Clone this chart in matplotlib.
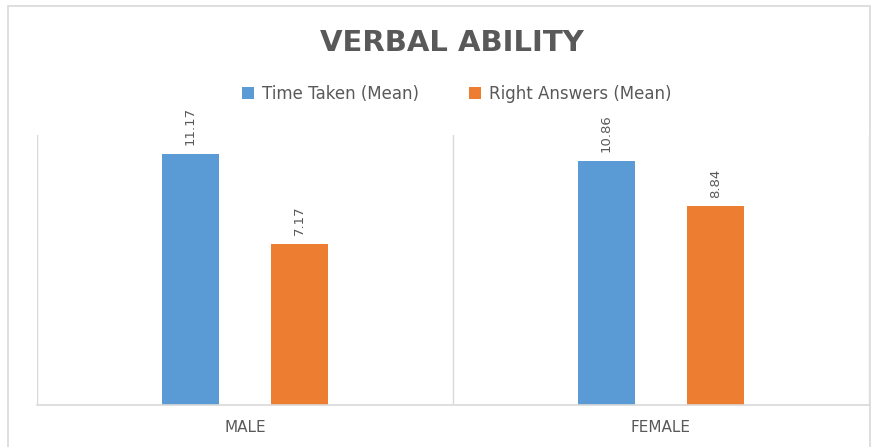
import numpy as np
import matplotlib
matplotlib.use("Agg")
from matplotlib import pyplot as plt
from matplotlib.patches import Rectangle

categories = ["MALE", "FEMALE"]
series_names = ["Time Taken (Mean)", "Right Answers (Mean)"]
time_taken = [11.17, 10.86]
right_answers = [7.17, 8.84]

BLUE = "#5b9bd5"
ORANGE = "#ed7d31"
GREY_TEXT = "#595959"
GRID = "#d9d9d9"

W, H = 886, 447
fig = plt.figure(figsize=(W / 100, H / 100), dpi=100)

# chart border (cropped at the bottom)
fig.patches.append(Rectangle((8 / W, -0.05), (870 - 8) / W, 1.05 - 6 / H,
                             transform=fig.transFigure, fill=False,
                             edgecolor=GRID, linewidth=1.2))

ax = fig.add_axes([37 / W, 1 - 405 / H, (869 - 37) / W, (405 - 135) / H])

x = np.arange(len(categories))
width = 0.135
offset = 0.131

b1 = ax.bar(x - offset, time_taken, width, color=BLUE, label=series_names[0])
b2 = ax.bar(x + offset, right_answers, width, color=ORANGE, label=series_names[1])

for bars in (b1, b2):
    for rect in bars:
        ax.annotate("{:.2f}".format(rect.get_height()),
                    (rect.get_x() + rect.get_width() / 2, rect.get_height()),
                    xytext=(0, 6), textcoords="offset points",
                    rotation=90, ha="center", va="bottom",
                    fontsize=9.5, color=GREY_TEXT)

ax.set_xlim(-0.5, len(categories) - 0.5)
ax.set_ylim(0, 12)

# category separators
for b in np.arange(-0.5, len(categories), 1.0):
    ax.axvline(b, color=GRID, linewidth=1, zorder=0)

for s in ["top", "left", "right"]:
    ax.spines[s].set_visible(False)
ax.spines["bottom"].set_color(GRID)
ax.spines["bottom"].set_linewidth(1.2)
ax.set_yticks([])
ax.set_xticks(x)
ax.set_xticklabels(categories, fontsize=11, color=GREY_TEXT)
ax.tick_params(axis="x", length=0, pad=11)

fig.text(452 / W, 1 - 43 / H, "VERBAL ABILITY", ha="center", va="center",
         fontsize=21, fontweight="bold", color=GREY_TEXT)

fig.legend(handles=[b1, b2], labels=series_names, loc="center",
           bbox_to_anchor=(457 / W, 1 - 94 / H), ncol=2, frameon=False,
           fontsize=12, labelcolor=GREY_TEXT, handlelength=0.7,
           handleheight=0.7, handletextpad=0.5, columnspacing=3.0)

plt.savefig("out.png", dpi=100)
